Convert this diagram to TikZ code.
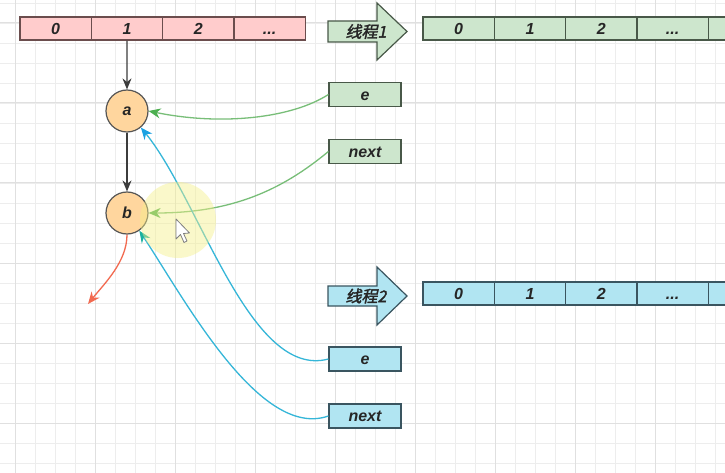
\documentclass[tikz,border=0pt]{standalone}
\usepackage{fontspec}
\setmainfont{Liberation Sans}
\newfontfamily\cjk[FakeSlant=0.2,FakeBold=2]{Noto Sans CJK SC}
\usetikzlibrary{arrows.meta}
\definecolor{gridminor}{HTML}{EDEDED}
\definecolor{gridmajor}{HTML}{E0E0E0}
\definecolor{redfill}{HTML}{FFCCCC}
\definecolor{redline}{HTML}{6B4D4D}
\definecolor{grnfill}{HTML}{CDE6CD}
\definecolor{grnline}{HTML}{485848}
\definecolor{cyafill}{HTML}{B1E5F2}
\definecolor{cyaline}{HTML}{3A5560}
\definecolor{orgfill}{HTML}{FFD69E}
\definecolor{orgline}{HTML}{555555}
\definecolor{darkarr}{HTML}{3C3C3C}
\definecolor{grnarr}{HTML}{78BE78}
\definecolor{grntip}{HTML}{4CAF50}
\definecolor{cyaarr}{HTML}{35B6D8}
\definecolor{cyatipa}{HTML}{1BA1E2}
\definecolor{cyatipb}{HTML}{1AB0A0}
\definecolor{redarr}{HTML}{F26A50}
\definecolor{txt}{HTML}{262626}
\definecolor{hilite}{HTML}{F5F08A}
\begin{document}
\begin{tikzpicture}[x=1pt,y=-1pt,
  lbl/.style={font=\fontsize{16}{18}\selectfont\bfseries\itshape, text=txt},
  cell/.style={lbl, draw, line width=1.2pt, minimum width=71.3pt, minimum height=23pt, inner sep=0pt, text height=11.5pt, text depth=0pt},
  redcell/.style={cell, fill=redfill, draw=redline},
  grncell/.style={cell, fill=grnfill, draw=grnline},
  cyacell/.style={cell, fill=cyafill, draw=cyaline},
  grnbox/.style={cell, fill=grnfill, draw=grnline, minimum width=72pt, minimum height=24pt, text height=11.5pt, text depth=0pt},
  cyabox/.style={cell, fill=cyafill, draw=cyaline, minimum width=72pt, minimum height=24pt, text height=11.5pt, text depth=0pt},
  entry/.style={lbl, circle, draw=orgline, fill=orgfill, line width=1.2pt, minimum size=42pt, inner sep=0pt},
  conn/.style={line width=1.3pt},
  tipk/.style={-{Stealth[length=11pt,width=9pt]}},
  thr/.style={font=\fontsize{16}{18}\selectfont\cjk, text=txt, inner sep=0pt}
]
\useasboundingbox (0,0) rectangle (725,473);
\begin{scope}
\clip (0,0) rectangle (725,473);
\fill[white] (0,0) rectangle (725,473);
% grid
\foreach \x in {15,35,...,725} \draw[gridminor, line width=0.9pt] (\x,0) -- (\x,473);
\foreach \y in {3,23,...,473} \draw[gridminor, line width=0.9pt] (0,\y) -- (725,\y);
\foreach \x in {15,95,...,725} \draw[gridmajor, line width=1pt] (\x,0) -- (\x,473);
\foreach \y in {23,103,...,473} \draw[gridmajor, line width=1pt] (0,\y) -- (725,\y);

% red array
\node[redcell] (r0) at (55.65,28.5) {0};
\node[redcell] (r1) at (126.95,28.5) {1};
\node[redcell] (r2) at (198.25,28.5) {2};
\node[redcell] (r3) at (269.55,28.5) {...};

% green array (thread 1)
\node[grncell] (g0) at (458.65,28.5) {0};
\node[grncell] (g1) at (529.95,28.5) {1};
\node[grncell] (g2) at (601.25,28.5) {2};
\node[grncell] (g3) at (672.55,28.5) {...};
\node[grncell] (g4) at (743.85,28.5) {};

% cyan array (thread 2)
\node[cyacell] (c0) at (458.65,293.5) {0};
\node[cyacell] (c1) at (529.95,293.5) {1};
\node[cyacell] (c2) at (601.25,293.5) {2};
\node[cyacell] (c3) at (672.55,293.5) {...};
\node[cyacell] (c4) at (743.85,293.5) {};
\end{scope}

% thread arrows
\draw[fill=grnfill, draw=grnline, line width=1.2pt, line join=miter]
  (328,21) -- (377,21) -- (377,3) -- (407,31.5) -- (377,60) -- (377,42) -- (328,42) -- cycle;
\node[thr] (t1) at (366,31.5) {线程1};
\draw[fill=cyafill, draw=cyaline, line width=1.2pt, line join=miter]
  (328,286) -- (377,286) -- (377,267) -- (407,296) -- (377,325) -- (377,306) -- (328,306) -- cycle;
\node[thr] (t2) at (366,296) {线程2};

% e / next boxes
\node[grnbox] (ge) at (365,94.5) {e};
\node[grnbox] (gn) at (365,151.5) {next};
\node[cyabox] (ce) at (365,359) {e};
\node[cyabox] (cn) at (365,416) {next};

% entries
\node[entry] (a) at (127,111) {a};
\node[entry] (b) at (127,213) {b};

% black links
\draw[conn, darkarr, tipk] (r1.south) -- (a.north);
\draw[conn, darkarr, tipk] (a.south) -- (b.north);

% red link
\coordinate (rend) at (88,304);
\draw[conn, redarr, -{Stealth[length=12pt,width=10pt]}] (b.south) .. controls (127,262) and (104,284) .. (rend);

% green links
\draw[conn, grnarr, -{Stealth[length=12pt,width=10pt,fill=grntip,color=grntip]}]
  (ge.west) .. controls (292,118) and (222,126) .. (a.east);
\draw[conn, grnarr, -{Stealth[length=12pt,width=10pt,fill=grntip,color=grntip]}]
  (gn.west) .. controls (282,190) and (232,213) .. (b.east);

% cyan links
\draw[conn, cyaarr, -{Stealth[length=12pt,width=10pt,fill=cyatipa,color=cyatipa]}]
  (ce.west) .. controls (250,380) and (200,200) .. (a.-50);
\draw[conn, cyaarr, -{Stealth[length=12pt,width=10pt,fill=cyatipb,color=cyatipb]}]
  (cn.west) .. controls (260,440) and (185,300) .. (b.-55);

% cursor highlight
\fill[hilite, opacity=0.45] (178,220) circle (38);
\draw[fill=white, draw=gray, line width=0.8pt, line join=round]
  (176,219) -- (176,239) -- (180.5,234.5) -- (184,242.5) -- (187,241) -- (183.5,233.5) -- (189.5,233) -- cycle;
\end{tikzpicture}
\end{document}
